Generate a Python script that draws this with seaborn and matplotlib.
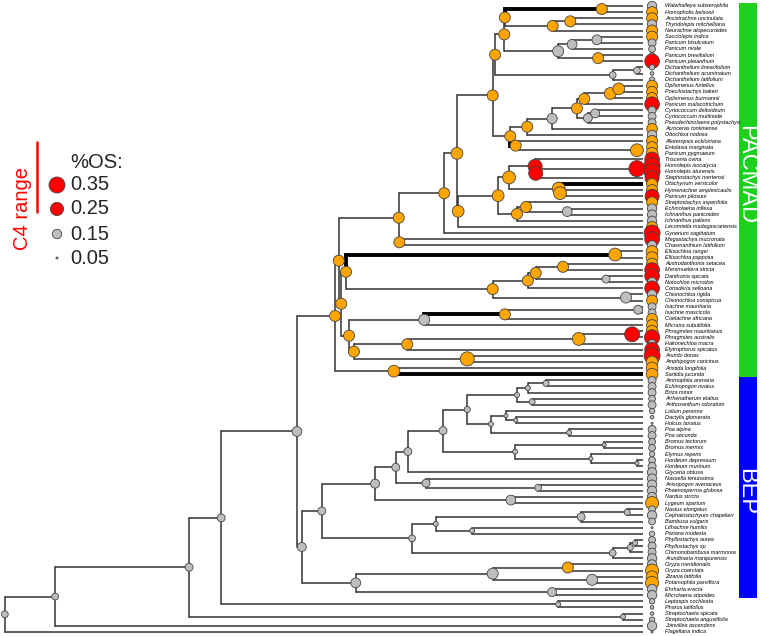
import matplotlib
matplotlib.use("Agg")
import matplotlib.pyplot as plt
import numpy as np
import pandas as pd
import seaborn as sns

# tips, top to bottom
tip_names = [
    "Walwhalleya subxerophila", "Homopholis belsonii", "Ancistrachne uncinulata",
    "Thyridolepis mitchelliana", "Neurachne alopecuroides", "Sacciolepis indica",
    "Panicum bisulcatum", "Panicum rivale", "Panicum brevifolium", "Panicum pleianthum",
    "Dichanthelium linearifolium", "Dichanthelium acuminatum", "Dichanthelium latifolium",
    "Oplismenus hirtellus", "Poecilostachys bakeri", "Oplismenus burmannii",
    "Panicum malacotrichum", "Cyrtococcum deltoideum", "Cyrtococcum multinode",
    "Pseudechinolaena polystachya", "Acroceras tonkinense", "Ottochloa nodosa",
    "Alloteropsis eckloniana", "Entolasia marginata", "Panicum pygmaeum",
    "Triscenia ovina", "Homolepis isocalycia", "Homolepis aturensis",
    "Stephostachys mertensii", "Otachyrium versicolor", "Hymenachne amplexicaulis",
    "Panicum pilosum", "Streptostachys asperifolia", "Echinolaena inflexa",
    "Ichnanthus panicoides", "Ichnanthus pallens", "Lecomtella madagascariensis",
    "Gynerium sagittatum", "Megastachya mucronata", "Chasmanthium latifolium",
    "Ellisochloa rangei", "Ellisochloa papposa", "Austrodanthonia setacea",
    "Merxmuellera stricta", "Danthonia spicata", "Notochloe microdon",
    "Cortaderia selloana", "Chionochloa rigida", "Chionochloa conspicua",
    "Isachne mauritiana", "Isachne mascicola", "Coelachne africana",
    "Micraira subulifolia", "Phragmites mauritianus", "Phragmites australis",
    "Hakonechloa macra", "Elytrophorus spicatus", "Arundo donax",
    "Amphipogon caricinus", "Aristida longifolia", "Sartidia jucunda",
    "Ammophila arenaria", "Echinopogon ovatus", "Briza minor",
    "Arrhenatherum elatius", "Anthoxanthum odoratum", "Lolium perenne",
    "Dactylis glomerata", "Holcus lanatus", "Poa alpina", "Poa secunda",
    "Bromus tectorum", "Bromus inermis", "Elymus repens", "Hordeum depressum",
    "Hordeum murinum", "Glyceria obtusa", "Nassella tenuissima",
    "Anisopogon avenaceus", "Phaenosperma globosa", "Nardus stricta",
    "Lygeum spartum", "Nastus elongatus", "Cephalostachyum chapelieri",
    "Bambusa vulgaris", "Lithachne humilis", "Pariana modesta",
    "Phyllostachys aurea", "Phyllostachys sp", "Chimonobambusa marmorea",
    "Arundinaria manipurensis", "Oryza meridionalis", "Oryza coarctata",
    "Zizania latifolia", "Potamophila parviflora", "Ehrharta erecta",
    "Microlaena stipoides", "Leptaspis cochleata", "Pharus latifolius",
    "Streptochaeta spicata", "Streptochaeta angustifolia", "Joinvillea ascendens",
    "Flagellaria indica",
]

tip_os = [
    0.15, 0.19, 0.19, 0.15, 0.19, 0.19, 0.12, 0.10, 0.08, 0.30,
    0.08, 0.06, 0.08, 0.19, 0.19, 0.19, 0.30, 0.12, 0.12, 0.12,
    0.18, 0.15, 0.19, 0.19, 0.21, 0.30, 0.35, 0.35, 0.28, 0.19,
    0.19, 0.28, 0.19, 0.15, 0.15, 0.15, 0.19, 0.35, 0.30, 0.15,
    0.21, 0.21, 0.19, 0.30, 0.30, 0.15, 0.30, 0.15, 0.19, 0.12,
    0.12, 0.19, 0.19, 0.21, 0.32, 0.12, 0.30, 0.35, 0.21, 0.21,
    0.21, 0.12, 0.12, 0.12, 0.10, 0.12, 0.08, 0.06, 0.05, 0.12,
    0.12, 0.10, 0.10, 0.08, 0.10, 0.12, 0.15, 0.15, 0.15, 0.15,
    0.15, 0.25, 0.10, 0.15, 0.10, 0.05, 0.08, 0.10, 0.12, 0.12,
    0.15, 0.15, 0.25, 0.21, 0.25, 0.15, 0.15, 0.08, 0.06, 0.06,
    0.08, 0.15, 0.05,
]

tip_state = list(
    "googoogggrgggooorgggogooorrrroorogggorrg"
    "ooorrgrgoggooorgrrooogggggggggggggggggggg"
    "oggggggggggoooggggggggg"
)

# internal nodes: children (tips are 1-based indices into tip_names)
children = {
    "ROOT": ["N55", 103], "N55": ["N189", 102], "N189": ["N221", "ST"],
    "ST": [100, 101], "N221": ["N297", "PL"], "PL": [98, 99],
    "N297": ["P0", "BEP"],
    "P0": ["N339", "AR"], "AR": [60, 61], "N339": ["N399", "N341"],
    "N399": ["PAN", "CH"], "CH": [39, 40], "PAN": ["Y", 38],
    "Y": ["M", "Z"], "M": ["J", "N"], "J": ["E", "K"], "E": ["B", "F"],
    "B": ["A", "C"], "A": [1, 2], "C": ["D", 5], "D": [3, 4],
    "F": ["G", "H"], "G": ["I", 8], "I": [6, 7], "H": [9, 10],
    "K": ["L", 13], "L": [11, 12],
    "N": ["O", "P"], "O": ["Q", 22], "Q": ["R", 21], "R": ["S", "T"],
    "S": ["U", 17], "U": ["V", 16], "V": [14, 15], "T": ["W", 20], "W": [18, 19],
    "P": [23, "EP"], "EP": [24, 25],
    "Z": ["AA", 37], "AA": ["AB", "AC"], "AB": ["R1", "AE1"],
    "R1": [26, "R2"], "R2": ["HP", 29], "HP": [27, 28],
    "AE1": [30, "AE2"], "AE2": [31, 32],
    "AC": ["AF", 36], "AF": [33, "AG"], "AG": [34, 35],
    "N341": ["N346", "N349"], "N346": ["EL", "N493"], "EL": [41, 42],
    "N493": ["N528", "CI"], "CI": [48, 49], "N528": ["N536", 47],
    "N536": ["N563", "N606"], "N563": [43, 44], "N606": [45, 46],
    "N349": ["MI", "N354"], "MI": ["N505", 53], "N505": ["IS", 52], "IS": [50, 51],
    "N354": ["N407", "N467"], "N407": ["N579", 57], "N579": ["PH", 56],
    "PH": [54, 55], "N467": [58, 59],
    "BEP": ["N322", "EHR"], "N322": ["POO", "BAM"],
    "POO": ["N396", "N511"], "N396": ["N408", "N426"], "N408": ["N443", 77],
    "N443": ["N467b", "N515"], "N467b": ["N517", "N491"],
    "N517": ["N528b", "N532"], "N528b": ["N546", 64], "N546": [62, 63],
    "N532": [65, 66], "N491": ["N506", "N569"], "N506": [67, "N516"],
    "N516": [68, 69], "N569": [70, 71], "N515": ["N604", "N591"],
    "N604": [72, 73], "N591": [74, "HO"], "HO": [75, 76],
    "N426": [78, "N538"], "N538": [79, 80], "N511": [81, 82],
    "BAM": ["N436", "N613"], "N436": ["N581", "N472"], "N581": ["NC", 85],
    "NC": [83, 84], "N472": [86, 87], "N613": ["N630", 91],
    "N630": ["PHY", 90], "PHY": [88, 89],
    "EHR": ["N493b", "EM"], "N493b": ["ORY", "ZP"], "ORY": [92, 93],
    "ZP": [94, 95], "EM": [96, 97],
}

# node ages (Ma)
node_age = {
    "ROOT": 105.3, "N55": 97.0, "N189": 74.9, "N221": 69.6, "ST": 3.3, "PL": 14.0,
    "N297": 57.1, "P0": 50.8, "AR": 41.1, "N339": 50.2, "N399": 40.3, "CH": 40.2,
    "PAN": 32.8, "Y": 30.7, "M": 24.8, "J": 24.4, "E": 22.9, "B": 22.8, "A": 6.8,
    "C": 14.9, "D": 12.0, "F": 14.0, "G": 11.7, "I": 7.6, "H": 7.4, "K": 5.0,
    "L": 1.0, "N": 21.9, "O": 19.1, "Q": 15.0, "R": 10.9, "S": 9.7, "U": 5.4,
    "V": 4.0, "T": 9.1, "W": 7.9, "P": 21.0, "EP": 1.0, "Z": 30.5, "AA": 23.9,
    "AB": 22.1, "R1": 17.8, "R2": 17.7, "HP": 1.0, "AE1": 13.9, "AE2": 13.7,
    "AC": 20.8, "AF": 19.3, "AG": 12.5, "N341": 49.8, "N346": 49.0, "EL": 4.6,
    "N493": 24.8, "CI": 2.8, "N528": 19.0, "N536": 17.7, "N563": 13.2,
    "N606": 6.1, "N349": 48.5, "MI": 36.1, "N505": 22.8, "IS": 0.8,
    "N354": 47.7, "N407": 38.9, "N579": 10.6, "PH": 1.8, "N467": 29.0,
    "BEP": 56.3, "N322": 53.0, "POO": 44.2, "N396": 40.8, "N408": 38.8,
    "N443": 33.0, "N467b": 29.0, "N517": 20.8, "N528b": 19.0, "N546": 16.0,
    "N532": 18.3, "N491": 25.1, "N506": 22.6, "N516": 21.0, "N569": 12.2,
    "N515": 21.1, "N604": 6.4, "N591": 8.6, "HO": 1.0, "N426": 35.8,
    "N538": 17.3, "N511": 21.8, "BAM": 38.1, "N436": 34.2, "N581": 10.2,
    "NC": 2.6, "N472": 28.2, "N613": 5.0, "N630": 2.1, "PHY": 1.3,
    "EHR": 47.4, "N493b": 24.8, "ORY": 12.4, "ZP": 8.4, "EM": 15.0,
}

# reconstructed %OS at internal nodes
node_os = {
    "ROOT": 0.10, "N55": 0.10, "N189": 0.12, "N221": 0.12, "ST": 0.075, "PL": 0.075,
    "N297": 0.16, "P0": 0.19, "AR": 0.21, "N339": 0.19, "N399": 0.19, "CH": 0.19,
    "PAN": 0.19, "Y": 0.21, "M": 0.19, "J": 0.19, "E": 0.19, "B": 0.19, "A": 0.19,
    "C": 0.19, "D": 0.19, "F": 0.19, "G": 0.16, "I": 0.16, "H": 0.19, "K": 0.10,
    "L": 0.10, "N": 0.19, "O": 0.19, "Q": 0.17, "R": 0.19, "S": 0.19, "U": 0.21,
    "V": 0.21, "T": 0.14, "W": 0.14, "P": 0.19, "EP": 0.24, "Z": 0.21, "AA": 0.21,
    "AB": 0.24, "R1": 0.28, "R2": 0.28, "HP": 0.35, "AE1": 0.24, "AE2": 0.24,
    "AC": 0.19, "AF": 0.19, "AG": 0.16, "N341": 0.19, "N346": 0.19, "EL": 0.24,
    "N493": 0.19, "CI": 0.19, "N528": 0.19, "N536": 0.19, "N563": 0.19,
    "N606": 0.12, "N349": 0.19, "MI": 0.19, "N505": 0.19, "IS": 0.14,
    "N354": 0.19, "N407": 0.19, "N579": 0.24, "PH": 0.31, "N467": 0.28,
    "BEP": 0.14, "N322": 0.12, "POO": 0.14, "N396": 0.12, "N408": 0.12,
    "N443": 0.12, "N467b": 0.09, "N517": 0.075, "N528b": 0.075, "N546": 0.088,
    "N532": 0.088, "N491": 0.075, "N506": 0.064, "N516": 0.064, "N569": 0.075,
    "N515": 0.075, "N604": 0.064, "N591": 0.064, "HO": 0.064, "N426": 0.12,
    "N538": 0.10, "N511": 0.16, "BAM": 0.10, "N436": 0.075, "N581": 0.12,
    "NC": 0.088, "N472": 0.075, "N613": 0.10, "N630": 0.088, "PHY": 0.075,
    "EHR": 0.16, "N493b": 0.19, "ORY": 0.19, "ZP": 0.19, "EM": 0.14,
}

orange_nodes = [
    "P0", "AR", "N339", "N399", "CH", "PAN", "Y", "M", "J", "E", "B", "A", "C", "D",
    "H", "N", "O", "R", "S", "U", "V", "P", "EP", "Z", "AA", "AB", "AE1", "AE2",
    "AC", "AF", "N341", "N346", "EL", "N493", "N528", "N536", "N563", "N349",
    "N505", "N354", "N407", "N579", "N467", "ORY",
]
red_nodes = ["R1", "R2", "HP", "PH"]

# branches leading to these nodes / tips are drawn bold
bold_branches = ["A", 30, "P", "EL", "N505", 61]

legend_os = [0.35, 0.25, 0.15, 0.05]
legend_state = ["r", "r", "g", "g"]

clade_names = ["PACMAD", "BEP"]
clade_first = [1, 62]
clade_last = [61, 97]
clade_colors = ["#1ED01E", "#0000FF"]

palette = {"r": "#FF0000", "o": "#FFA500", "g": "#BEBEBE"}

# ---------------------------------------------------------------------------
sns.set_style("white")
plt.rcParams["font.family"] = ["Liberation Sans", "DejaVu Sans"]

ypos = {}
xage = {}
for i in range(len(tip_names)):
    ypos[i + 1] = float(i)
    xage[i + 1] = 0.0


def place(node):
    if node in ypos:
        return ypos[node]
    ys = [place(c) for c in children[node]]
    ypos[node] = float(np.mean(ys))
    xage[node] = node_age[node]
    return ypos[node]


place("ROOT")

fig = plt.figure(figsize=(7.62, 6.36), dpi=100)
ax = fig.add_axes([0, 0, 1, 1])
ax.axis("off")
# pixel scale: 1 Ma = 1/0.165 px, tips end at x=643
ax.set_xlim(643 * 0.165, (643 - 762) * 0.165)
ax.set_ylim((636 - 6) / 6.137, -6 / 6.137)

line_col = "#333333"
for parent, kids in children.items():
    for c in kids:
        lw = 2.8 if c in bold_branches else 1.1
        col = "black" if c in bold_branches else line_col
        ax.plot([xage[parent], xage[c]], [ypos[c], ypos[c]], color=col, lw=lw,
                solid_capstyle="butt", zorder=1)
        ax.plot([xage[parent], xage[parent]], [ypos[parent], ypos[c]], color=col,
                lw=lw, solid_capstyle="projecting", zorder=1)

rows = []
for node in children:
    st = "r" if node in red_nodes else ("o" if node in orange_nodes else "g")
    rows.append({"x": xage[node], "y": ypos[node], "os": node_os[node], "state": st})
tip_dot_x = -1.5
for i, name in enumerate(tip_names):
    rows.append({"x": tip_dot_x, "y": ypos[i + 1], "os": tip_os[i], "state": tip_state[i]})
dots = pd.DataFrame(rows)

size_kw = dict(size="os", sizes=(0, 133), size_norm=(0.045, 0.35))
sns.scatterplot(data=dots, x="x", y="y", hue="state", palette=palette, ax=ax,
                edgecolor="#444444", linewidth=0.6, legend=False, zorder=3,
                **size_kw)

for i, name in enumerate(tip_names):
    ax.text(-3.6, ypos[i + 1], name, fontsize=4.0, style="italic",
            va="center", ha="left", color="black")

# clade bars; labels nudged (in rows) the way they sit in the figure
label_shift = [-2.6, 0.6]
for name, a, b, col, dy in zip(clade_names, clade_first, clade_last, clade_colors,
                               label_shift):
    y0, y1 = ypos[a] - 0.5, ypos[b] + 0.5
    ax.fill_betweenx([y0, y1], (643 - 739) * 0.165, (643 - 757) * 0.165,
                     color=col, lw=0, zorder=2)
    ax.text((643 - 746.5) * 0.165, (y0 + y1) / 2 + dy, name, rotation=270,
            color="white", fontsize=17, ha="center", va="center", zorder=4)

# legend (pixel coordinates)
lax = fig.add_axes([0, 0, 1, 1])
lax.axis("off")
lax.set_xlim(0, 762)
lax.set_ylim(636, 0)
leg_y = [185, 209, 234, 258]
leg = pd.DataFrame({"x": [57] * 4, "y": leg_y, "os": legend_os, "state": legend_state})
sns.scatterplot(data=leg, x="x", y="y", hue="state", palette=palette, ax=lax,
                edgecolor="#444444", linewidth=0.6, legend=False, **size_kw)
lax.text(70, 162, "%OS:", fontsize=14.5, va="center", ha="left")
for yy, v in zip(leg_y, legend_os):
    lax.text(70, yy, f"{v:.2f}", fontsize=14.5, va="center", ha="left")
lax.plot([37, 37], [142, 212], color="#FF0000", lw=1.8)
lax.text(22, 209, "C4 range", rotation=90, color="#FF0000", fontsize=14.5,
         ha="center", va="center")
lax.set_xlim(0, 762)
lax.set_ylim(636, 0)

fig.savefig("out.png", dpi=100)
